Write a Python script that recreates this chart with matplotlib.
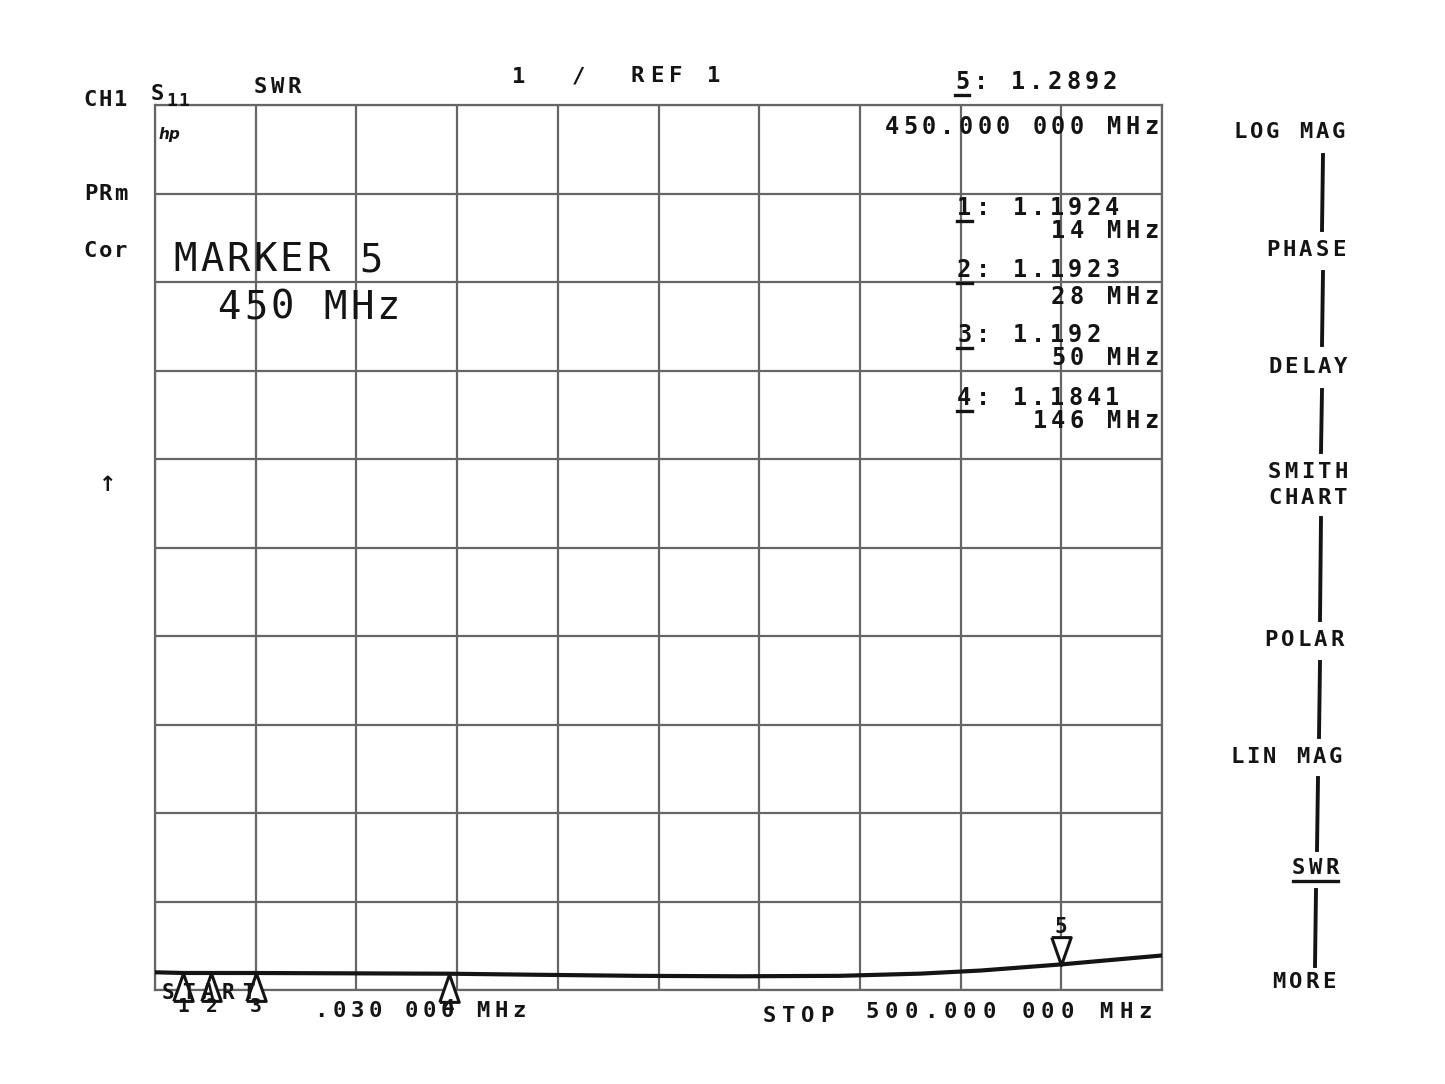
import numpy as np
import matplotlib
matplotlib.use("Agg")
import matplotlib.pyplot as plt
from matplotlib.lines import Line2D
from matplotlib.transforms import offset_copy

# ─── data ────────────────────────────────────────────────────────────
# S11 SWR trace, 0.030 .. 500 MHz
freq_mhz = [0.03, 14, 28, 50, 100, 146, 190, 240, 290, 340, 380, 410, 450, 480, 500]
swr      = [1.20, 1.1924, 1.1923, 1.192, 1.188, 1.1841, 1.172, 1.16, 1.155,
            1.16, 1.185, 1.22, 1.2892, 1.35, 1.39]

marker_ids   = ["1", "2", "3", "4", "5"]
marker_freq  = [14, 28, 50, 146, 450]
marker_swr   = [1.1924, 1.1923, 1.192, 1.1841, 1.2892]
marker_freqs_txt = ["14 MHz", "28 MHz", "50 MHz", "146 MHz"]

menu_labels = ["LOG MAG", "PHASE", "DELAY", "SMITH", "CHART", "POLAR",
               "LIN MAG", "SWR", "MORE"]

START, STOP = 0.03, 500.0
REF, PER_DIV = 1.0, 1.0
# ─────────────────────────────────────────────────────────────────────

W, H = 1445, 1084
fig = plt.figure(figsize=(W / 100, H / 100), dpi=100)
fig.patch.set_facecolor("white")
INK = "#141414"
GRID = "#666666"

# tall, narrow marker triangles like the analyzer draws them
TRI_UP = [(-0.7, -1), (0.7, -1), (0, 1), (-0.7, -1)]
TRI_DN = [(-0.7, 1), (0.7, 1), (0, -1), (-0.7, 1)]


def crt(x, y, s, size=16, pitch=17, weight="bold", ha="left", under=None):
    """fixed-pitch text like the CRT character generator; x,y in px (y = char centre)"""
    if ha == "right":
        x = x - pitch * len(s)
    for i, ch in enumerate(s):
        if ch == " ":
            continue
        fig.text((x + i * pitch + pitch / 2) / W, 1 - y / H, ch, ha="center",
                 va="center", fontsize=size, family="DejaVu Sans Mono",
                 weight=weight, color=INK)
    if under is not None:
        i0, i1 = under
        fig.add_artist(Line2D([(x + i0 * pitch + 2) / W, (x + i1 * pitch - 2) / W],
                              [1 - (y + 13) / H] * 2, color=INK, lw=2.4))


# ─── graticule + trace ───────────────────────────────────────────────
ax = fig.add_axes([155 / W, 1 - 990 / H, (1162 - 155) / W, (990 - 105) / H])
ax.set_xlim(START, STOP)
ax.set_ylim(REF, REF + 10 * PER_DIV)
ax.set_xticks(np.linspace(START, STOP, 11))
ax.set_yticks(np.arange(REF, REF + 10 * PER_DIV + 0.5, PER_DIV))
ax.tick_params(length=0, labelbottom=False, labelleft=False)
ax.grid(True, color=GRID, lw=1.6)
for sp in ax.spines.values():
    sp.set_color(GRID)
    sp.set_linewidth(1.6)
ax.set_facecolor("white")

ax.plot(freq_mhz, swr, color=INK, lw=3, solid_joinstyle="miter", zorder=4)

# markers 1-4: hollow up-triangles under the trace, number beneath
down_tri = offset_copy(ax.transData, fig=fig, y=-10, units="points")
down_num = offset_copy(ax.transData, fig=fig, y=-24, units="points")
up_tri = offset_copy(ax.transData, fig=fig, y=10, units="points")
up_num = offset_copy(ax.transData, fig=fig, y=27, units="points")
for mid, f, v in zip(marker_ids[:4], marker_freq[:4], marker_swr[:4]):
    ax.plot([f], [v], marker=TRI_UP, ms=20, mfc="white", mec=INK, mew=2.2,
            transform=down_tri, clip_on=False, zorder=5)
    ax.text(f, v, mid, transform=down_num, ha="center", va="center",
            fontsize=14, family="DejaVu Sans Mono", weight="bold", color=INK,
            clip_on=False, zorder=6)
# active marker 5 above the trace
ax.plot([marker_freq[4]], [marker_swr[4]], marker=TRI_DN, ms=20, mfc="white",
        mec=INK, mew=2.2, transform=up_tri, clip_on=False, zorder=5)
ax.text(marker_freq[4], marker_swr[4], marker_ids[4], transform=up_num,
        ha="center", va="center", fontsize=15, family="DejaVu Sans Mono",
        weight="bold", color=INK, zorder=6)

# ─── annotations ─────────────────────────────────────────────────────
crt(83, 100, "CH1", pitch=15)
crt(150, 94, "S", pitch=15)
crt(166, 101, "11", size=13, pitch=12)
crt(252, 87, "SWR", pitch=17)
crt(510, 77, f"{PER_DIV:g}", pitch=17)
crt(570, 77, "/", pitch=17)
crt(628, 76, f"REF {REF:g}", pitch=19)
crt(83, 194, "PRm", pitch=15)
crt(83, 251, "Cor", pitch=15)
fig.text(159 / W, 1 - 135 / H, "hp", fontsize=11, style="italic",
         weight="bold", color=INK, va="center")
fig.text(108 / W, 1 - 485 / H, "↑", fontsize=15, weight="bold", color=INK,
         ha="center", va="center", family="DejaVu Sans")

# active marker readout
crt(953, 82, f"{marker_ids[4]}: {marker_swr[4]:.4f}", size=17, pitch=18.5,
    under=(0, 1))
crt(1160, 127, f"{marker_freq[4]:.3f} 000 MHz", size=17, pitch=18.5, ha="right")

# marker list
rows_y = [(208, 231), (270, 297), (335, 358), (398, 421)]
for mid, v, ftxt, (y1, y2) in zip(marker_ids[:4], marker_swr[:4],
                                  marker_freqs_txt, rows_y):
    crt(955, y1, f"{mid}: {v:g}", size=17, pitch=18.5, under=(0, 1))
    crt(1160, y2, ftxt, size=17, pitch=18.5, ha="right")

# big softkey title
crt(172, 260, "MARKER 5", size=28, pitch=26.5, weight="normal")
crt(216, 308, "450 MHz", size=28, pitch=26.5, weight="normal")

# start / stop
crt(158, 993, "START", size=15, pitch=20)
crt(312, 1011, f"{START:.3f} 000 MHz".lstrip("0"), size=16, pitch=18)
crt(760, 1016, "STOP", size=16, pitch=19)
crt(1155, 1012, f"{STOP:.3f} 000 MHz", size=16, pitch=19.5, ha="right")

# ─── softkey menu on the right ───────────────────────────────────────
menu_pos = [(1347, 132), (1347, 250), (1349, 367), (1349, 472), (1349, 498),
            (1345, 640), (1344, 757), (1340, 868), (1337, 982)]
for lab, (xr, y) in zip(menu_labels, menu_pos):
    crt(xr, y, lab, size=16, pitch=16.5, ha="right",
        under=(0, len(lab)) if lab == "SWR" else None)

seps = [(1323, 155, 230), (1323, 272, 345), (1322, 390, 452),
        (1321, 518, 620), (1320, 662, 737), (1318, 778, 850),
        (1316, 890, 966)]
for x, y0, y1 in seps:
    fig.add_artist(Line2D([x / W, (x - 1) / W], [1 - y0 / H, 1 - y1 / H],
                          color=INK, lw=2.8))

fig.savefig("out.png", dpi=100, facecolor="white")
